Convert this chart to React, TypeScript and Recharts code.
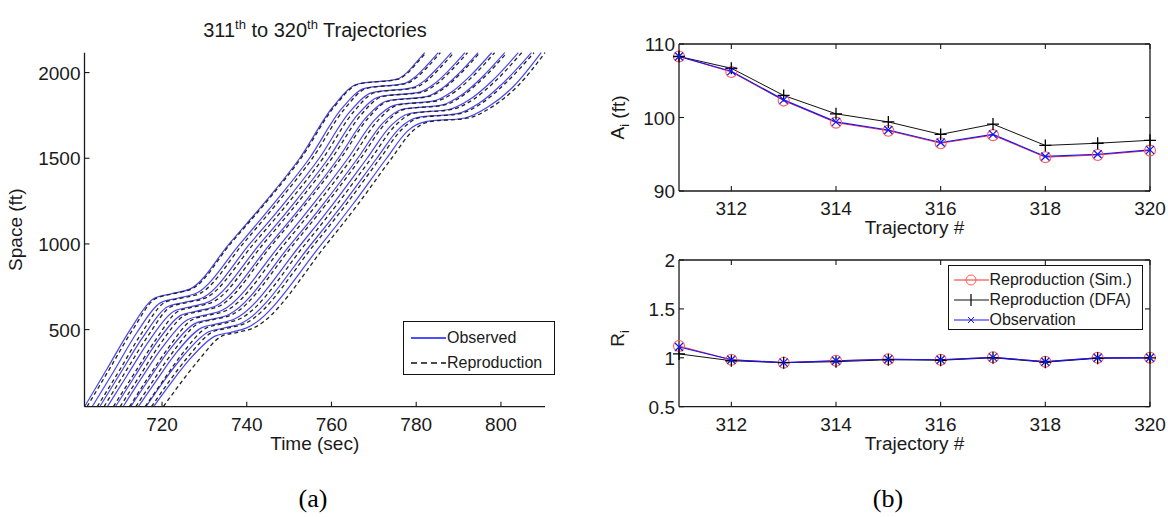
import React from "react";
import { LineChart, Line, XAxis, YAxis } from "recharts";

const FONT = "'Liberation Sans', Arial, Helvetica, sans-serif";
const SERIF = "'Liberation Serif', 'Times New Roman', serif";
const AX = "#1a1a1a";

// (a) trajectories: [time (sec), space (ft)]
const obs311 = [[701.7, 50], [707.0, 270], [712.5, 500], [718.0, 680], [722.0, 708], [727.0, 742], [736.0, 1005], [744.5, 1250], [752.5, 1500], [760.5, 1805], [766.0, 1932], [775.5, 1962], [777.8, 2000], [780.0, 2060], [782.0, 2116]];
const obs312 = [[703.5, 50], [708.7, 260], [714.0, 480], [719.6, 656], [723.6, 683], [728.4, 716], [738.4, 1000], [746.8, 1248], [754.8, 1500], [762.4, 1789], [767.8, 1908], [777.3, 1937], [779.9, 1978], [782.6, 2044], [785.2, 2116]];
const obs313 = [[705.3, 50], [710.3, 251], [715.6, 460], [721.2, 632], [725.1, 658], [729.9, 690], [740.8, 1003], [749.1, 1246], [757.1, 1500], [764.4, 1773], [769.6, 1883], [779.1, 1912], [782.1, 1956], [785.1, 2029], [788.3, 2116]];
const obs314 = [[707.1, 50], [712.0, 242], [717.1, 440], [722.8, 607], [726.7, 633], [731.3, 665], [743.2, 1003], [751.3, 1243], [759.3, 1500], [766.3, 1757], [771.3, 1859], [780.8, 1886], [784.2, 1933], [787.7, 2013], [791.5, 2116]];
const obs315 = [[709.0, 50], [713.7, 232], [718.6, 420], [724.4, 583], [728.2, 608], [732.8, 639], [745.6, 1002], [753.6, 1241], [761.6, 1500], [768.3, 1741], [773.1, 1834], [782.6, 1861], [786.3, 1911], [790.2, 1998], [794.6, 2116]];
const obs316 = [[710.8, 50], [715.3, 223], [720.2, 400], [726.1, 559], [729.8, 583], [734.2, 613], [748.1, 1002], [755.9, 1239], [763.9, 1500], [770.2, 1724], [774.9, 1810], [784.4, 1836], [788.5, 1889], [792.8, 1982], [797.8, 2116]];
const obs317 = [[712.6, 50], [717.0, 213], [721.7, 380], [727.7, 535], [731.3, 558], [735.7, 587], [750.5, 1002], [758.2, 1237], [766.2, 1500], [772.2, 1708], [776.7, 1786], [786.2, 1811], [790.6, 1867], [795.3, 1967], [800.9, 2116]];
const obs318 = [[714.4, 50], [718.7, 204], [723.2, 360], [729.3, 510], [732.9, 533], [737.1, 562], [752.9, 1001], [760.4, 1234], [768.4, 1500], [774.1, 1692], [778.4, 1761], [787.9, 1786], [792.7, 1844], [797.9, 1951], [804.1, 2116]];
const obs319 = [[716.2, 50], [720.3, 195], [724.8, 340], [730.9, 486], [734.4, 508], [738.6, 536], [755.3, 1001], [762.7, 1232], [770.7, 1500], [776.1, 1676], [780.2, 1737], [789.7, 1760], [794.9, 1822], [800.4, 1936], [807.2, 2116]];
const obs320 = [[718.0, 50], [722.0, 185], [726.3, 320], [732.5, 462], [736.0, 483], [740.0, 510], [757.7, 1000], [765.0, 1230], [773.0, 1500], [778.0, 1660], [782.0, 1712], [791.5, 1735], [797.0, 1800], [803.0, 1920], [809.5, 2116]];

const rep311 = [[702.3, 50], [707.6, 270], [713.1, 500], [718.4, 680], [722.4, 708], [727.4, 742], [736.3, 1005], [744.8, 1250], [752.8, 1500], [760.8, 1805], [766.3, 1932], [775.8, 1962], [778.1, 2000], [780.3, 2060], [782.3, 2116]];
const rep312 = [[704.7, 50], [709.9, 260], [715.2, 480], [720.5, 656], [724.5, 683], [729.3, 716], [739.1, 1000], [747.5, 1248], [755.5, 1500], [763.1, 1789], [768.3, 1908], [777.8, 1937], [780.4, 1978], [783.1, 2044], [785.7, 2116]];
const rep313 = [[706.3, 50], [711.3, 251], [716.6, 460], [722.0, 632], [725.9, 658], [730.7, 690], [741.7, 1003], [750.0, 1246], [758.0, 1500], [765.3, 1773], [770.2, 1883], [779.7, 1912], [782.7, 1956], [785.7, 2029], [788.9, 2116]];
const rep314 = [[708.5, 50], [713.4, 242], [718.5, 440], [723.8, 607], [727.7, 633], [732.3, 665], [744.0, 1003], [752.1, 1243], [760.1, 1500], [767.1, 1757], [771.9, 1859], [781.4, 1886], [784.8, 1933], [788.3, 2013], [792.1, 2116]];
const rep315 = [[710.1, 50], [714.8, 232], [719.7, 420], [725.3, 583], [729.1, 608], [733.7, 639], [746.2, 1002], [754.2, 1241], [762.2, 1500], [768.9, 1741], [773.5, 1834], [783.0, 1861], [786.7, 1911], [790.6, 1998], [795.0, 2116]];
const rep316 = [[712.3, 50], [716.8, 223], [721.7, 400], [727.2, 559], [730.9, 583], [735.3, 613], [749.0, 1002], [756.8, 1239], [764.8, 1500], [771.1, 1724], [775.6, 1810], [785.1, 1836], [789.2, 1889], [793.5, 1982], [798.5, 2116]];
const rep317 = [[713.8, 50], [718.2, 213], [722.9, 380], [728.5, 535], [732.1, 558], [736.5, 587], [751.2, 1002], [758.9, 1237], [766.9, 1500], [772.9, 1708], [777.2, 1786], [786.7, 1811], [791.1, 1867], [795.8, 1967], [801.4, 2116]];
const rep318 = [[716.0, 50], [720.3, 204], [724.8, 360], [730.5, 510], [734.1, 533], [738.3, 562], [753.9, 1001], [761.4, 1234], [769.4, 1500], [775.1, 1692], [779.2, 1761], [788.7, 1786], [793.5, 1844], [798.7, 1951], [804.9, 2116]];
const rep319 = [[717.5, 50], [721.6, 195], [726.1, 340], [731.9, 486], [735.4, 508], [739.6, 536], [756.1, 1001], [763.5, 1232], [771.5, 1500], [776.9, 1676], [780.8, 1737], [790.3, 1760], [795.5, 1822], [801.0, 1936], [807.8, 2116]];
const rep320 = [[720.3, 50], [724.3, 185], [728.6, 320], [734.1, 462], [737.6, 483], [741.6, 510], [758.9, 1000], [766.2, 1230], [774.2, 1500], [779.2, 1660], [782.9, 1712], [792.4, 1735], [797.9, 1800], [803.9, 1920], [810.4, 2116]];

const observed = [obs311, obs312, obs313, obs314, obs315, obs316, obs317, obs318, obs319, obs320];
const reproduced = [rep311, rep312, rep313, rep314, rep315, rep316, rep317, rep318, rep319, rep320];

const timeTicks = [720, 740, 760, 780, 800];
const spaceTicks = [500, 1000, 1500, 2000];

// (b)
const trajNo = [311, 312, 313, 314, 315, 316, 317, 318, 319, 320];
const aSim = [108.3, 106.2, 102.3, 99.3, 98.2, 96.5, 97.6, 94.6, 94.9, 95.5];
const aDfa = [108.3, 106.7, 103.0, 100.5, 99.4, 97.7, 99.1, 96.2, 96.5, 96.9];
const aObs = [108.3, 106.3, 102.4, 99.4, 98.3, 96.6, 97.7, 94.7, 95.0, 95.6];
const rSim = [1.12, 0.98, 0.95, 0.97, 0.985, 0.98, 1.005, 0.96, 1.0, 1.0];
const rDfa = [1.04, 0.97, 0.95, 0.96, 0.98, 0.975, 1.0, 0.955, 0.995, 1.0];
const rObs = [1.11, 0.98, 0.95, 0.97, 0.985, 0.98, 1.005, 0.96, 1.0, 1.0];
const trajTicks = [312, 314, 316, 318, 320];
const aTicks = [90, 100, 110];
const rTicks = [0.5, 1, 1.5, 2];

const toPts = (arr: number[][]) => arr.map(([t, s]) => ({ t, s }));
const aRows = trajNo.map((n, i) => ({ n, sim: aSim[i], dfa: aDfa[i], obs: aObs[i] }));
const rRows = trajNo.map((n, i) => ({ n, sim: rSim[i], dfa: rDfa[i], obs: rObs[i] }));

const axisLine = { stroke: AX, strokeWidth: 1.3 };

const BottomTick = (p: any) => (
  <g>
    <line x1={p.x} y1={p.y} x2={p.x} y2={p.y - 5} stroke={AX} strokeWidth={1.1} />
    <text x={p.x} y={p.y + 24} textAnchor="middle" fontSize={19} fontFamily={FONT} fill={AX}>
      {p.payload.value}
    </text>
  </g>
);
const LeftTick = (p: any) => (
  <g>
    <line x1={p.x} y1={p.y} x2={p.x + 5} y2={p.y} stroke={AX} strokeWidth={1.1} />
    <text x={p.x - 4} y={p.y + 7} textAnchor="end" fontSize={19} fontFamily={FONT} fill={AX}>
      {p.payload.value}
    </text>
  </g>
);
const TopTick = (p: any) => <line x1={p.x} y1={p.y} x2={p.x} y2={p.y + 5} stroke={AX} strokeWidth={1.1} />;
const RightTick = (p: any) => <line x1={p.x} y1={p.y} x2={p.x - 5} y2={p.y} stroke={AX} strokeWidth={1.1} />;

const xTitle = (text: string) => (p: any) => {
  const vb = p.viewBox;
  return (
    <text x={vb.x + vb.width / 2} y={vb.y + 43} textAnchor="middle" fontSize={19} fontFamily={FONT} fill={AX}>
      {text}
    </text>
  );
};
const yTitle = (main: string, sub: string, rest: string, dx: number, shift = 0) => (p: any) => {
  const vb = p.viewBox;
  const cx = vb.x + dx;
  const cy = vb.y + vb.height / 2 + shift;
  return (
    <text x={cx} y={cy} transform={`rotate(-90 ${cx} ${cy})`} textAnchor="middle" dominantBaseline="central"
      fontSize={19} fontFamily={FONT} fill={AX}>
      {main}
      {sub && <tspan fontSize={13} dy={6}>{sub}</tspan>}
      {rest && <tspan dy={sub ? -6 : 0}>{rest}</tspan>}
    </text>
  );
};

const circleDot = (p: any) => (
  <circle key={`c${p.index}`} cx={p.cx} cy={p.cy} r={5.5} fill="none" stroke="#ff5a5a" strokeWidth={1.1} />
);
const plusDot = (p: any) => (
  <path key={`p${p.index}`} d={`M${p.cx - 6},${p.cy}H${p.cx + 6}M${p.cx},${p.cy - 6}V${p.cy + 6}`} stroke="#000" strokeWidth={1.3} />
);
const crossDot = (p: any) => (
  <path key={`x${p.index}`} d={`M${p.cx - 4},${p.cy - 4}L${p.cx + 4},${p.cy + 4}M${p.cx - 4},${p.cy + 4}L${p.cx + 4},${p.cy - 4}`}
    stroke="#1414ff" strokeWidth={1.2} />
);

const PanelB = ({ rows, ticks, domain, title, top, height, marginTop }: any) => (
  <div style={{ position: "absolute", left: 580, top }}>
    <LineChart width={588} height={height} data={rows} margin={{ top: marginTop, right: 0, bottom: 8, left: 0 }}>
      <XAxis xAxisId="top" orientation="top" type="number" dataKey="n" domain={[311, 320]} ticks={trajTicks}
        allowDataOverflow height={10} tickSize={0} tickMargin={0} interval={0} tick={TopTick} axisLine={axisLine} />
      <XAxis type="number" dataKey="n" domain={[311, 320]} ticks={trajTicks} height={45} tickSize={0} tickMargin={0}
        interval={0} tick={BottomTick} axisLine={axisLine} label={xTitle("Trajectory #")} />
      <YAxis type="number" domain={domain} ticks={ticks} width={99} tickSize={0} tickMargin={0} interval={0}
        tick={LeftTick} axisLine={axisLine} label={title} />
      <YAxis yAxisId="right" orientation="right" type="number" domain={domain} ticks={ticks} allowDataOverflow
        width={18} tickSize={0} tickMargin={0} interval={0} tick={RightTick} axisLine={axisLine} />
      <Line dataKey="sim" stroke="#ff2a2a" strokeWidth={1} dot={circleDot} isAnimationActive={false} />
      <Line dataKey="dfa" stroke="#111" strokeWidth={1} dot={plusDot} isAnimationActive={false} />
      <Line dataKey="obs" stroke="#1414ff" strokeWidth={1.2} dot={crossDot} isAnimationActive={false} />
    </LineChart>
  </div>
);

const legendRow = (sample: React.ReactNode, text: string) => (
  <div style={{ display: "flex", alignItems: "center", height: 20 }}>
    <svg width={36} height={14} style={{ flex: "none" }}>{sample}</svg>
    <span style={{ fontSize: 16, marginLeft: 1, whiteSpace: "nowrap" }}>{text}</span>
  </div>
);

export default function App() {
  return (
    <div style={{ position: "absolute", left: 0, top: 0, width: 1168, height: 517, background: "#fff", fontFamily: FONT, color: AX, overflow: "hidden" }}>
      <div style={{ position: "absolute", left: 115, top: 18, width: 400, textAlign: "center", fontSize: 20, lineHeight: "24px" }}>
        311<span style={{ fontSize: 13, position: "relative", top: -8 }}>th</span> to 320
        <span style={{ fontSize: 13, position: "relative", top: -8 }}>th</span> Trajectories
      </div>

      <div style={{ position: "absolute", left: 0, top: 0 }}>
        <LineChart width={560} height={470} margin={{ top: 52.7, right: 15, bottom: 13.3, left: 0 }}>
          <XAxis type="number" dataKey="t" domain={[701.7, 810.4]} ticks={timeTicks} height={50} tickSize={0}
            tickMargin={0} interval={0} tick={BottomTick} axisLine={axisLine} label={xTitle("Time (sec)")} />
          <YAxis type="number" dataKey="s" domain={[50, 2116]} ticks={spaceTicks} width={84.5} tickSize={0}
            tickMargin={0} interval={0} tick={LeftTick} axisLine={axisLine} label={yTitle("Space (ft)", "", "", 16)} />
          {observed.map((d, i) => (
            <Line key={`o${i}`} data={toPts(d)} dataKey="s" type="monotone" stroke="#4646f5" strokeWidth={1.2}
              dot={false} isAnimationActive={false} />
          ))}
          {reproduced.map((d, i) => (
            <Line key={`r${i}`} data={toPts(d)} dataKey="s" type="monotone" stroke="#222" strokeWidth={1.3}
              strokeDasharray="4 3" dot={false} isAnimationActive={false} />
          ))}
        </LineChart>
      </div>

      <div style={{ position: "absolute", left: 403, top: 321, width: 152, height: 54, border: "1.3px solid #111", background: "#fff", padding: "6px 0 0 6px", boxSizing: "border-box" }}>
        {legendRow(<line x1={1} y1={7} x2={36} y2={7} stroke="#1414ff" strokeWidth={1.5} />, "Observed")}
        <div style={{ height: 5 }} />
        {legendRow(<line x1={1} y1={7} x2={36} y2={7} stroke="#111" strokeWidth={1.5} strokeDasharray="6 4" />, "Reproduction")}
      </div>

      <PanelB rows={aRows} ticks={aTicks} domain={[90, 110]} top={0} height={244} marginTop={34}
        title={yTitle("A", "i", " (ft)", 37.5)} />
      <PanelB rows={rRows} ticks={rTicks} domain={[0.5, 2]} top={250} height={209.7} marginTop={0}
        title={yTitle("R", "i", "", 37.5, 5)} />

      <div style={{ position: "absolute", left: 947.5, top: 265, width: 195, height: 65, border: "1.3px solid #111", background: "#fff", padding: "4px 0 0 4px", boxSizing: "border-box" }}>
        {legendRow(<g><line x1={1} y1={7} x2={36} y2={7} stroke="#ff2a2a" /><circle cx={18} cy={7} r={5} fill="none" stroke="#ff5a5a" /></g>, "Reproduction (Sim.)")}
        {legendRow(<g><line x1={1} y1={7} x2={36} y2={7} stroke="#111" /><path d="M18,1V13" stroke="#111" strokeWidth={1.3} /></g>, "Reproduction (DFA)")}
        {legendRow(<g><line x1={1} y1={7} x2={36} y2={7} stroke="#1414ff" strokeWidth={1.2} /><path d="M15,4L21,10M15,10L21,4" stroke="#1414ff" /></g>, "Observation")}
      </div>

      <div style={{ position: "absolute", left: 263, top: 484, width: 100, textAlign: "center", fontFamily: SERIF, fontSize: 26, lineHeight: "30px", color: "#000" }}>(a)</div>
      <div style={{ position: "absolute", left: 838, top: 484, width: 100, textAlign: "center", fontFamily: SERIF, fontSize: 26, lineHeight: "30px", color: "#000" }}>(b)</div>
    </div>
  );
}
